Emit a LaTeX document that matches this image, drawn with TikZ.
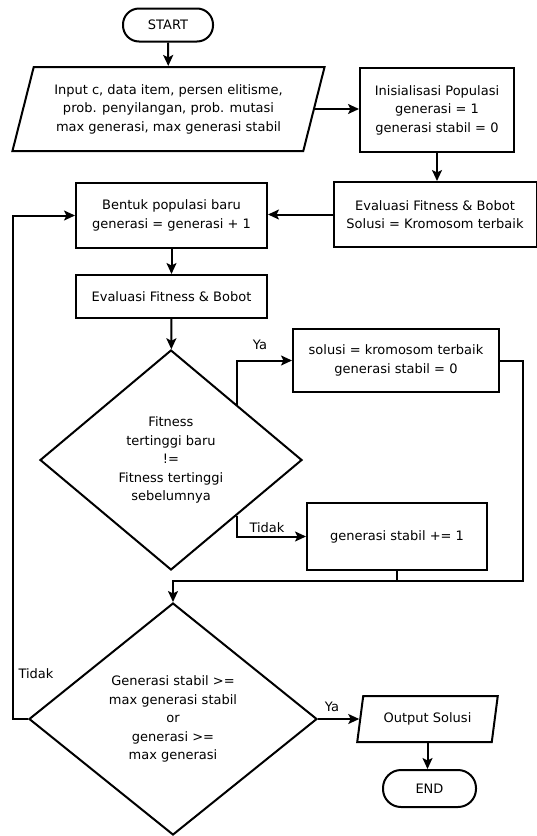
\documentclass[tikz,border=0pt]{standalone}
\usepackage{fontspec}
\setmainfont{DejaVu Sans}
\usetikzlibrary{shapes.geometric,arrows.meta}
\begin{document}
\begin{tikzpicture}[x=1pt,y=-1pt,
  every node/.style={font=\fontsize{13}{18.5}\selectfont, align=center, inner sep=0pt},
  box/.style={draw, line width=2pt, rectangle},
  term/.style={draw, line width=2pt, rectangle, rounded corners=16pt},
  io/.style={draw, line width=2pt, trapezium, trapezium stretches=true},
  dec/.style={draw, line width=2pt, diamond},
  conn/.style={line width=2pt, -{Stealth[length=11pt,width=10pt,inset=2.5pt]}},
  plain/.style={line width=2pt},
  lbl/.style={font=\fontsize{13}{15}\selectfont}
]
\useasboundingbox (0,0) rectangle (537,836);

\node[term, minimum width=90pt, minimum height=33pt] (start) at (168,25) {START};
\node[io, trapezium left angle=70, trapezium right angle=110, minimum width=313pt, minimum height=84pt] (input) at (168.5,109)
  {Input c, data item, persen elitisme,\\prob. penyilangan, prob. mutasi\\max generasi, max generasi stabil};
\node[box, minimum width=154pt, minimum height=84pt] (init) at (437,110)
  {Inisialisasi Populasi\\generasi = 1\\generasi stabil = 0};
\node[box, minimum width=203pt, minimum height=65pt] (evalA) at (435,214.5)
  {Evaluasi Fitness \& Bobot\\Solusi = Kromosom terbaik};
\node[box, minimum width=191pt, minimum height=65pt] (bentuk) at (171.5,215.5)
  {Bentuk populasi baru\\generasi = generasi + 1};
\node[box, minimum width=191pt, minimum height=43pt] (evalB) at (171.5,296.5)
  {Evaluasi Fitness \& Bobot};
\node[dec, minimum width=262pt, minimum height=220pt] (dA) at (171,460)
  {Fitness\\tertinggi baru\\!=\\Fitness tertinggi\\sebelumnya};
\node[box, minimum width=206pt, minimum height=63pt] (solusi) at (396,360.5)
  {solusi = kromosom terbaik\\generasi stabil = 0};
\node[box, minimum width=180pt, minimum height=67pt] (stabil) at (397,536.5)
  {generasi stabil += 1};
\node[dec, minimum width=288pt, minimum height=232pt] (dB) at (173,719)
  {Generasi stabil >=\\max generasi stabil\\or\\generasi >=\\max generasi};
\node[io, trapezium left angle=72, trapezium right angle=108, minimum width=141pt, minimum height=46pt] (output) at (427.5,719)
  {Output Solusi};
\node[term, minimum width=93pt, minimum height=37pt, rounded corners=18pt] (endn) at (429.5,788.5) {END};

\coordinate (mr) at (523,581);
\coordinate (lp) at (13,217);

\draw[conn] (start) -- (input);
\draw[conn] (input.east) -- (input.east -| init.west);
\draw[conn] (init.south) -- (init.south |- evalA.north);
\draw[conn] (evalA.west) -- (evalA.west -| bentuk.east);
\draw[conn] (bentuk) -- (evalB);
\draw[conn] (evalB) -- (dA);
\draw[conn] (dA.north east) |- (solusi.west);
\draw[conn] (dA.south east) |- (stabil.west);
\draw[conn] (solusi.east) -| (mr) -- (dB.north |- mr) -- (dB.north);
\draw[plain] (stabil.south) -- (stabil.south |- mr);
\draw[conn] (dB.west) -- (dB.west -| lp) |- (bentuk.west);
\draw[conn] (dB.east) -- (dB.east -| output.west);
\draw[conn] (output.south) -- (output.south |- endn.north);

\node[lbl] (ya1) at (260,345) {Ya};
\node[lbl] (tidak1) at (267,528) {Tidak};
\node[lbl] (tidak2) at (36,674) {Tidak};
\node[lbl] (ya2) at (332,707) {Ya};
\end{tikzpicture}
\end{document}
